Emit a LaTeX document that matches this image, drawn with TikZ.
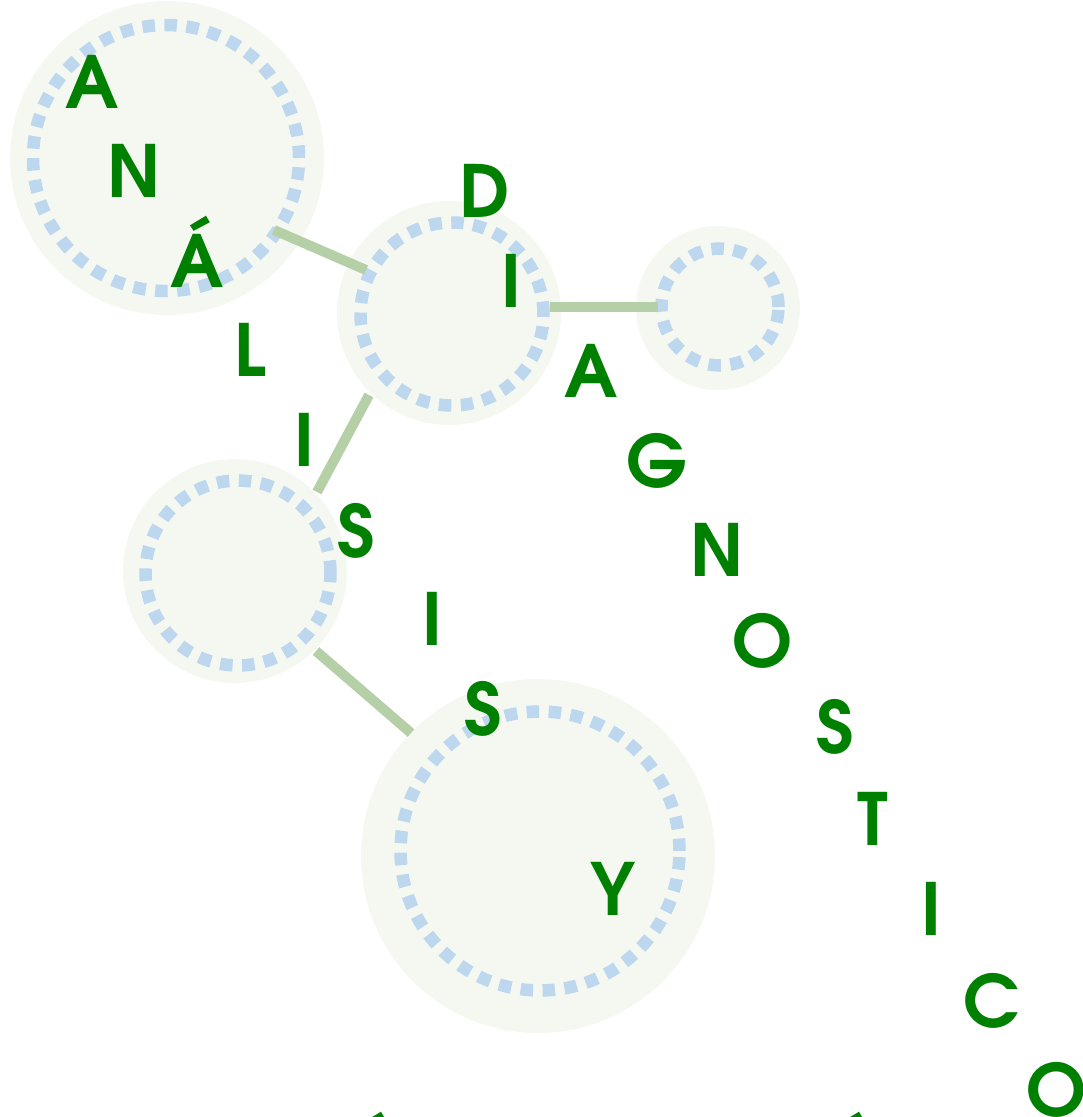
\documentclass[tikz,border=0pt]{standalone}
\usepackage{fontspec}
\setmainfont{TeX Gyre Adventor}
\definecolor{outerfill}{HTML}{F5F8F1}
\definecolor{dotblue}{HTML}{BDD7EE}
\definecolor{linkgreen}{HTML}{B5CFA7}
\definecolor{lettergreen}{HTML}{008000}
\begin{document}
\begin{tikzpicture}[x=1bp,y=-1bp,
  outer/.style={circle,fill=outerfill,draw=none,inner sep=0,minimum size=#1},
  inner/.style={circle,draw=dotblue,line width=12.5bp,dash pattern=on 12.5bp off 9.5bp,inner sep=0,minimum size=#1},
  link/.style={draw=linkgreen,line width=10bp},
  lt/.style={text=lettergreen,font=\fontsize{72bp}{72bp}\selectfont\bfseries,inner sep=0,anchor=base}]
\useasboundingbox (0,0) rectangle (1083,1117);
\clip (0,0) rectangle (1083,1117);
% outer discs
\node[outer=314bp] (o1) at (167,158) {};
\node[outer=224bp] (o2) at (449,313) {};
\node[outer=164bp] (o3) at (718,308) {};
\node[outer=224bp] (o4) at (235,571) {};
\node[outer=354bp] (o5) at (538,856) {};
% inner dotted rings
\node[inner=266bp] (c1) at (166,158) {};
\node[inner=183bp] (c2) at (452,314) {};
\node[inner=117bp] (c3) at (720,307) {};
\node[inner=185bp] (c4) at (238,573) {};
\node[inner=279bp] (c5) at (540,851) {};
% link end points
\coordinate (l1a) at (274,230);
\coordinate (l1b) at (366,270);
\coordinate (l2a) at (550,307);
\coordinate (l2b) at (658,307);
\coordinate (l3a) at (369,395);
\coordinate (l3b) at (317,492);
\coordinate (l4a) at (316,651);
\coordinate (l4b) at (411,733);
\draw[link] (l1a) -- (l1b);
\draw[link] (l2a) -- (l2b);
\draw[link] (l3a) -- (l3b);
\draw[link] (l4a) -- (l4b);
% letters
\node[lt] (t1) at (92,108) {A};
\node[lt] (t2) at (134,197) {N};
\node[lt] (t3) at (197,287) {Á};
\node[lt] (t4) at (250,376) {L};
\node[lt] (t5) at (305,466) {I};
\node[lt] (t6) at (356,557) {S};
\node[lt] (t7) at (433,645) {I};
\node[lt] (t8) at (483,735) {S};
\node[lt] (t9) at (613,915) {Y};
\node[lt] (u1) at (485,217) {D};
\node[lt] (u2) at (512,307) {I};
\node[lt] (u3) at (591,397) {A};
\node[lt] (u4) at (657,487) {G};
\node[lt] (u5) at (717,576) {N};
\node[lt] (u6) at (763,667) {O};
\node[lt] (u7) at (835,753) {S};
\node[lt] (u8) at (873,845) {T};
\node[lt] (u9) at (932,935) {I};
\node[lt] (u10) at (992,1027) {C};
\node[lt] (u11) at (1057,1116) {O};
\node[lt] (v1) at (372,1183) {Á};
\node[lt] (v2) at (850,1183) {Á};
\end{tikzpicture}
\end{document}
